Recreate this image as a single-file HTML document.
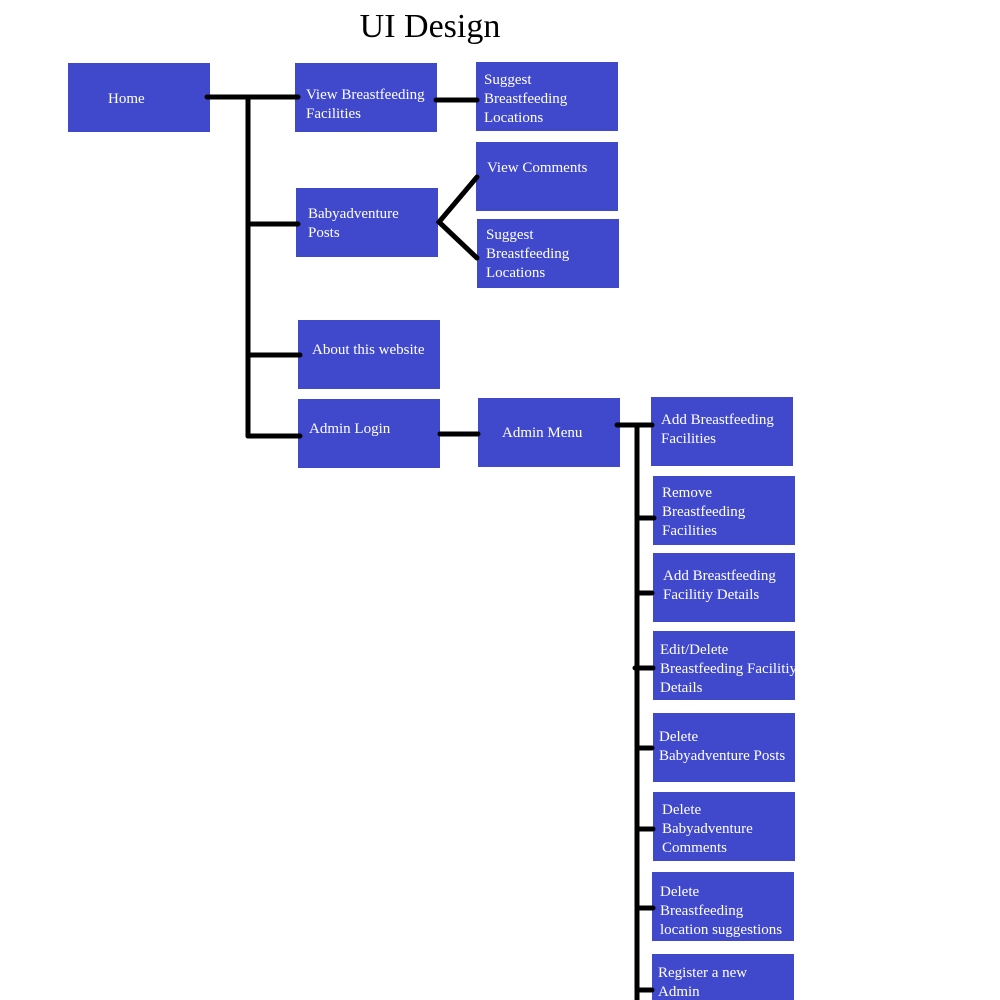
<!DOCTYPE html>
<html><head><style>
html,body{margin:0;padding:0;background:#fff;width:1000px;height:1000px;overflow:hidden}
</style></head><body>
<svg width="1000" height="1000" xmlns="http://www.w3.org/2000/svg" style="position:absolute;left:0;top:0">
<text x="430" y="37" font-family="Liberation Serif, serif" font-size="34" text-anchor="middle" fill="#000">UI Design</text>
<g fill="#4048cc">
<rect x="68" y="63" width="142" height="69"/>
<rect x="295" y="63" width="142" height="69"/>
<rect x="476" y="62" width="142" height="69"/>
<rect x="476" y="142" width="142" height="69"/>
<rect x="296" y="188" width="142" height="69"/>
<rect x="477" y="219" width="142" height="69"/>
<rect x="298" y="320" width="142" height="69"/>
<rect x="298" y="399" width="142" height="69"/>
<rect x="478" y="398" width="142" height="69"/>
<rect x="651" y="397" width="142" height="69"/>
<rect x="653" y="476" width="142" height="69"/>
<rect x="653" y="553" width="142" height="69"/>
<rect x="653" y="631" width="142" height="69"/>
<rect x="653" y="713" width="142" height="69"/>
<rect x="653" y="792" width="142" height="69"/>
<rect x="652" y="872" width="142" height="69"/>
<rect x="652" y="954" width="142" height="60"/>
</g>
<g stroke="#000" stroke-width="5" fill="none" stroke-linecap="round">
<line x1="207" y1="97" x2="298" y2="97"/>
<line x1="248" y1="97" x2="248" y2="436"/>
<line x1="248" y1="224" x2="298" y2="224"/>
<line x1="248" y1="355" x2="300" y2="355"/>
<line x1="248" y1="436" x2="300" y2="436"/>
<line x1="436" y1="100" x2="477" y2="100"/>
<polyline points="477,177 439,222 477,258"/>
<line x1="440" y1="434" x2="478" y2="434"/>
<line x1="617" y1="425" x2="652" y2="425"/>
<line x1="637" y1="425" x2="637" y2="1005"/>
<line x1="637" y1="518" x2="654" y2="518"/>
<line x1="637" y1="593" x2="652" y2="593"/>
<line x1="635" y1="668" x2="653" y2="668"/>
<line x1="637" y1="748" x2="652" y2="748"/>
<line x1="637" y1="829" x2="653" y2="829"/>
<line x1="637" y1="908" x2="653" y2="908"/>
<line x1="637" y1="990" x2="652" y2="990"/>
</g>
<g font-family="Liberation Serif, serif" font-size="15" fill="#fff">
<text x="108" y="103">Home</text>
<text x="306" y="99">View Breastfeeding</text><text x="306" y="118">Facilities</text>
<text x="484" y="84">Suggest</text><text x="484" y="103">Breastfeeding</text><text x="484" y="122">Locations</text>
<text x="487" y="172">View Comments</text>
<text x="308" y="218">Babyadventure</text><text x="308" y="237">Posts</text>
<text x="486" y="239">Suggest</text><text x="486" y="258">Breastfeeding</text><text x="486" y="277">Locations</text>
<text x="312" y="354">About this website</text>
<text x="309" y="433">Admin Login</text>
<text x="502" y="437">Admin Menu</text>
<text x="661" y="424">Add Breastfeeding</text><text x="661" y="443">Facilities</text>
<text x="662" y="497">Remove</text><text x="662" y="516">Breastfeeding</text><text x="662" y="535">Facilities</text>
<text x="663" y="580">Add Breastfeeding</text><text x="663" y="599">Facilitiy Details</text>
<text x="660" y="654">Edit/Delete</text><text x="660" y="673">Breastfeeding Facilitiy</text><text x="660" y="692">Details</text>
<text x="659" y="741">Delete</text><text x="659" y="760">Babyadventure Posts</text>
<text x="662" y="814">Delete</text><text x="662" y="833">Babyadventure</text><text x="662" y="852">Comments</text>
<text x="660" y="896">Delete</text><text x="660" y="915">Breastfeeding</text><text x="660" y="934">location suggestions</text>
<text x="658" y="977">Register a new</text><text x="658" y="996">Admin</text>
</g>
</svg>
</body></html>
